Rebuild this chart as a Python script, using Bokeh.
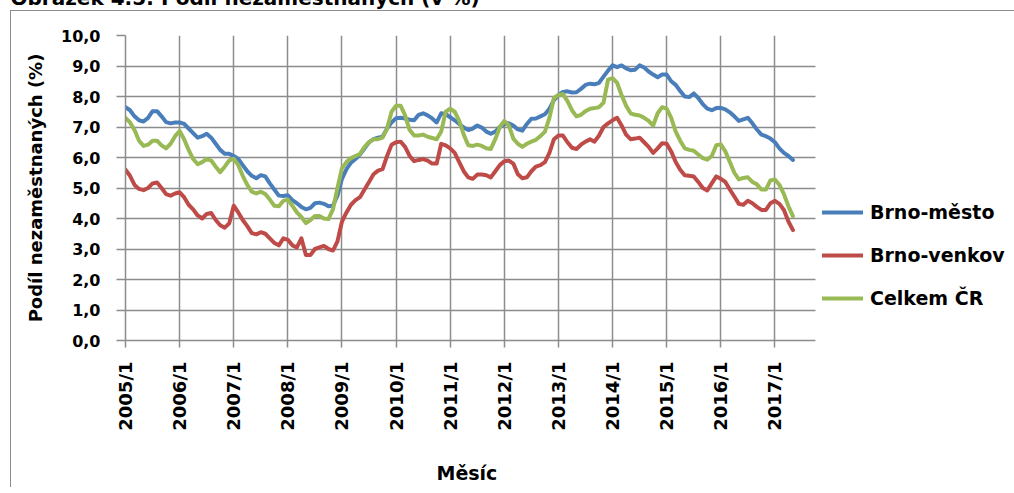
import math
from bokeh.plotting import figure
from bokeh.models import (Range1d, FixedTicker, Legend, LegendItem, Title, InlineStyleSheet,
                          BoxAnnotation)
from bokeh.embed import file_html
from bokeh.resources import INLINE

# ---------------- data ----------------
years = list(range(2005, 2018))
months = [f"{y}/{m}" for y in years for m in range(1, 13)][:149]   # 2005/1 .. 2017/5
tick_labels = [f"{y}/1" for y in years]

brno_mesto = [
    7.65, 7.55, 7.35, 7.22, 7.18, 7.30, 7.52, 7.52, 7.35, 7.16, 7.12, 7.15,
    7.15, 7.10, 6.95, 6.80, 6.65, 6.70, 6.78, 6.65, 6.45, 6.25, 6.12, 6.12,
    6.05, 5.95, 5.75, 5.55, 5.40, 5.32, 5.42, 5.38, 5.15, 4.95, 4.75, 4.74,
    4.76, 4.60, 4.50, 4.38, 4.30, 4.35, 4.50, 4.52, 4.48, 4.40, 4.42, 4.75,
    5.30, 5.62, 5.83, 5.95, 6.10, 6.30, 6.50, 6.60, 6.65, 6.68, 6.95, 7.15,
    7.29, 7.30, 7.28, 7.24, 7.22, 7.40, 7.45, 7.38, 7.28, 7.15, 7.45, 7.42,
    7.32, 7.22, 7.10, 6.98, 6.90, 6.95, 7.05, 6.98, 6.85, 6.78, 6.85, 7.00,
    7.10, 7.12, 7.05, 6.92, 6.88, 7.10, 7.27, 7.28, 7.35, 7.42, 7.60, 7.88,
    8.05, 8.15, 8.17, 8.13, 8.14, 8.25, 8.38, 8.42, 8.40, 8.45, 8.65, 8.85,
    9.02, 8.96, 9.02, 8.92, 8.86, 8.88, 9.02, 8.95, 8.82, 8.72, 8.63, 8.72,
    8.72, 8.50, 8.38, 8.18, 8.00, 7.98, 8.10, 7.95, 7.75, 7.60, 7.55, 7.62,
    7.63, 7.58, 7.48, 7.35, 7.20, 7.25, 7.30, 7.12, 6.92, 6.75, 6.70, 6.62,
    6.50, 6.30, 6.15, 6.05, 5.92,
]

brno_venkov = [
    5.60, 5.40, 5.10, 4.97, 4.93, 5.00, 5.15, 5.18, 5.00, 4.80, 4.75, 4.82,
    4.86, 4.70, 4.45, 4.30, 4.10, 4.00, 4.15, 4.18, 3.95, 3.78, 3.70, 3.84,
    4.42, 4.20, 3.95, 3.75, 3.52, 3.48, 3.55, 3.50, 3.35, 3.20, 3.12, 3.35,
    3.30, 3.12, 3.05, 3.35, 2.80, 2.80, 3.00, 3.05, 3.10, 3.00, 2.95, 3.25,
    3.90, 4.20, 4.45, 4.60, 4.70, 4.95, 5.20, 5.45, 5.57, 5.62, 6.05, 6.42,
    6.50, 6.52, 6.35, 6.05, 5.88, 5.92, 5.95, 5.90, 5.80, 5.80, 6.45, 6.40,
    6.30, 6.15, 5.85, 5.55, 5.35, 5.30, 5.44, 5.44, 5.42, 5.35, 5.55, 5.75,
    5.88, 5.90, 5.80, 5.45, 5.32, 5.35, 5.55, 5.70, 5.75, 5.85, 6.15, 6.60,
    6.72, 6.72, 6.50, 6.32, 6.28, 6.42, 6.52, 6.60, 6.52, 6.72, 7.00, 7.12,
    7.22, 7.30, 7.05, 6.75, 6.60, 6.62, 6.65, 6.50, 6.35, 6.15, 6.30, 6.47,
    6.45, 6.20, 5.85, 5.60, 5.42, 5.40, 5.38, 5.20, 5.00, 4.92, 5.15, 5.38,
    5.30, 5.20, 4.95, 4.72, 4.48, 4.45, 4.58, 4.50, 4.38, 4.28, 4.28, 4.50,
    4.58, 4.48, 4.28, 3.90, 3.62,
]

celkem_cr = [
    7.30, 7.15, 6.90, 6.55, 6.38, 6.42, 6.55, 6.55, 6.40, 6.30, 6.45, 6.70,
    6.87, 6.60, 6.25, 5.95, 5.78, 5.85, 5.95, 5.90, 5.70, 5.52, 5.70, 5.90,
    5.96, 5.75, 5.40, 5.10, 4.88, 4.82, 4.88, 4.80, 4.62, 4.42, 4.40, 4.58,
    4.62, 4.42, 4.20, 4.05, 3.85, 3.95, 4.08, 4.08, 4.00, 3.98, 4.30, 5.00,
    5.65, 5.85, 5.98, 6.05, 6.12, 6.35, 6.50, 6.60, 6.60, 6.65, 6.95, 7.50,
    7.70, 7.70, 7.38, 6.90, 6.72, 6.72, 6.75, 6.68, 6.64, 6.60, 6.85, 7.50,
    7.60, 7.50, 7.20, 6.75, 6.40, 6.38, 6.42, 6.38, 6.30, 6.28, 6.60, 7.00,
    7.20, 7.05, 6.62, 6.45, 6.35, 6.45, 6.52, 6.58, 6.70, 6.85, 7.30, 7.95,
    8.05, 8.08, 7.85, 7.55, 7.35, 7.40, 7.52, 7.60, 7.62, 7.65, 7.80, 8.55,
    8.60, 8.45, 8.05, 7.70, 7.45, 7.40, 7.38, 7.30, 7.20, 7.05, 7.45, 7.65,
    7.60, 7.30, 6.85, 6.55, 6.30, 6.25, 6.22, 6.10, 5.98, 5.93, 6.05, 6.40,
    6.43, 6.20, 5.85, 5.50, 5.28, 5.33, 5.35, 5.20, 5.12, 4.95, 4.95, 5.25,
    5.28, 5.10, 4.80, 4.40, 4.08,
]

series_names = ["Brno-město", "Brno-venkov", "Celkem ČR"]
series_colors = ["#4A7EBB", "#BE4B48", "#98B954"]
y_ticks = list(range(0, 11))

FONT = "DejaVu Sans"
GRID = "#8c8c8c"

# ---------------- figure ----------------
SHIFT = 50                      # canvas starts SHIFT px above the page top
W = 1014
H = 487 + SHIFT                 # canvas bottom at page y = 487
FL, FR, FT, FB = 125, 815, 35 + SHIFT, 340 + SHIFT   # plot area in canvas px
AX_END = 153                    # category slots on the axis
X_END = AX_END * (W - FL) / (FR - FL)   # frame extends right to hold the legend

p = figure(width=W, height=H, output_backend="svg", toolbar_location=None,
           x_range=Range1d(0, X_END), y_range=Range1d(0, 10),
           min_border_left=FL, min_border_right=0,
           min_border_top=FT, min_border_bottom=H - FB)
p.styles = {"margin-top": f"-{SHIFT}px"}
p.stylesheets = [InlineStyleSheet(css=f"""
:host {{ position: relative; }}
:host::after {{
  content: ""; position: absolute; pointer-events: none;
  left: 10px; top: {10 + SHIFT}px; right: 0px; bottom: 0px;
  border-top: 1px solid #8c8c8c; border-left: 1px solid #8c8c8c;
}}
""")]
p.outline_line_color = None
p.background_fill_color = "white"
p.border_fill_color = "white"

x = list(range(len(months)))
renderers = []
for vals, col in zip([brno_mesto, brno_venkov, celkem_cr], series_colors):
    r = p.line(x, vals, line_color=col, line_width=4, line_join="round", line_cap="round")
    renderers.append(r)

# axes
xt = [i * 12 for i in range(len(tick_labels))]
p.xaxis.ticker = FixedTicker(ticks=xt)
p.xaxis.bounds = (0, AX_END)
p.xaxis.major_label_overrides = {t: lab for t, lab in zip(xt, tick_labels)}
p.xaxis.major_label_orientation = math.pi / 2
p.xaxis.major_tick_in = 0
p.xaxis.major_tick_out = 7
p.xaxis.minor_tick_out = 0
p.xaxis.minor_tick_line_color = None
p.xaxis.major_label_standoff = 14
# blank spacer label: keeps the axis title further down
p.xaxis.axis_label = " "
p.xaxis.axis_label_text_font_size = "10px"
p.xaxis.axis_label_standoff = 12

p.yaxis.ticker = FixedTicker(ticks=y_ticks)
p.yaxis.major_label_overrides = {t: f"{t},0" for t in y_ticks}
p.yaxis.major_tick_in = 0
p.yaxis.major_tick_out = 9
p.yaxis.minor_tick_out = 0
p.yaxis.minor_tick_line_color = None
p.yaxis.major_label_standoff = 16
p.yaxis.axis_label = "Podíl nezaměstnaných (%)"
p.yaxis.axis_label_standoff = 12
p.yaxis.axis_label_text_font_size = "18px"

for ax in [p.xaxis, p.yaxis]:
    ax.axis_line_color = GRID
    ax.axis_line_width = 1.5
    ax.major_tick_line_color = GRID
    ax.major_tick_line_width = 1.5
    ax.major_label_text_font = FONT
    ax.major_label_text_font_style = "bold"
    ax.major_label_text_color = "black"
    ax.axis_label_text_font = FONT
    ax.axis_label_text_font_style = "bold"
    ax.axis_label_text_color = "black"
p.xaxis.major_label_text_font_size = "18px"
p.yaxis.major_label_text_font_size = "16px"

p.xgrid.ticker = FixedTicker(ticks=xt)
p.ygrid.ticker = FixedTicker(ticks=y_ticks)
for g in [p.xgrid, p.ygrid]:
    g.grid_line_color = GRID
    g.grid_line_width = 1.5

# blank area right of the plot area (holds the legend)
p.add_layout(BoxAnnotation(left=AX_END, fill_color="white", fill_alpha=1,
                           line_color=None))

# x-axis title under the plot area
xtitle = Title(text="Měsíc", align="left", offset=436 - FL,
               standoff=0, vertical_align="bottom",
               text_font=FONT, text_font_style="bold", text_font_size="19px",
               text_color="black")
p.add_layout(xtitle, "below")

# figure caption (cut off at the page top in the reference)
cap = Title(text="Obrázek 4.5: Podíl nezaměstnaných (v %)", align="left",
            offset=10 - FL, standoff=52, vertical_align="bottom",
            text_font=FONT, text_font_style="bold", text_font_size="20px",
            text_color="black")
p.add_layout(cap, "above")

legend = Legend(items=[LegendItem(label=n, renderers=[r]) for n, r in zip(series_names, renderers)],
                location=(822 - FL, 31), orientation="vertical",
                label_text_font=FONT, label_text_font_style="bold", label_text_font_size="19px",
                label_text_color="black",
                glyph_width=41, glyph_height=20, label_height=20, label_standoff=7,
                spacing=21, padding=0, margin=0,
                border_line_color=None, background_fill_alpha=0)
p.add_layout(legend)

open("out.html", "w").write(file_html(p, INLINE))
